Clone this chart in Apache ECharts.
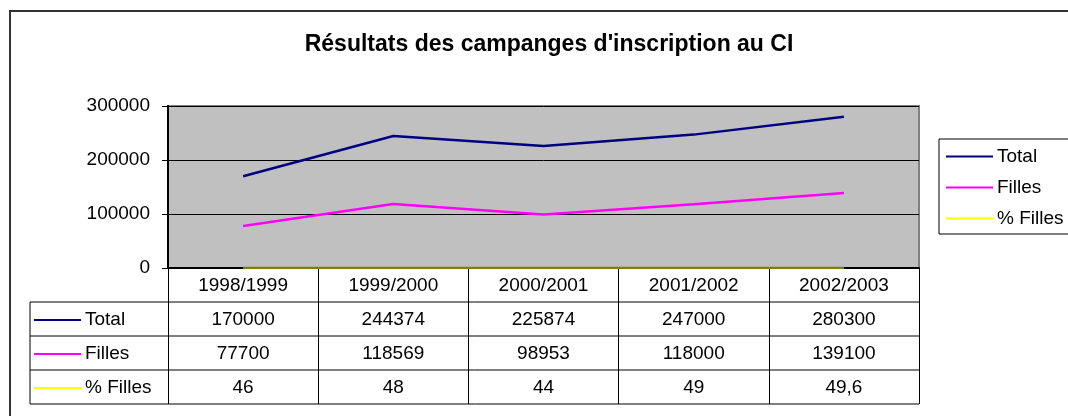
<!DOCTYPE html>
<html>
<head>
<meta charset="utf-8">
<script src="https://cdn.jsdelivr.net/npm/echarts@6/dist/echarts.min.js"></script>
<style>
  html, body { margin: 0; padding: 0; background: #fff; }
  #main { width: 1068px; height: 416px; }
</style>
</head>
<body>
<div id="main"></div>
<script>
/* Résultats des campagnes d'inscription au CI */
var titre = "Résultats des campanges d'inscription au CI";
var annees = ['1998/1999', '1999/2000', '2000/2001', '2001/2002', '2002/2003'];
var total = [170000, 244374, 225874, 247000, 280300];
var filles = [77700, 118569, 98953, 118000, 139100];
var pctFilles = [46, 48, 44, 49, 49.6];
var yTicks = [0, 100000, 200000, 300000];

var noms = ['Total', 'Filles', '% Filles'];
var couleurs = ['#000080', '#FF00FF', '#FFFF00'];
var lignes = [total, filles, pctFilles];

var FONT = '"Liberation Sans", Arial, sans-serif';
var gLeft = 168, gTop = 106, gW = 751, gH = 162;
var rowH = 34, tabLeft = 30;
var gBottom = gTop + gH;

var chart = echarts.init(document.getElementById('main'));

// nombre affiché à la française (virgule décimale)
function fmt(v) { return String(v).replace('.', ','); }

var xAxes = [{
    type: 'category',
    data: annees,
    position: 'bottom',
    gridIndex: 0,
    boundaryGap: true,
    axisLine: { show: true, lineStyle: { color: '#000', width: 2 } },
    axisTick: { show: true, length: rowH * 4, lineStyle: { color: '#000', width: 1 } },
    axisLabel: { color: '#000', fontSize: 19, fontFamily: FONT, margin: 8 }
}];
for (var k = 0; k < lignes.length; k++) {
    (function (serie, k) {
        xAxes.push({
            type: 'category',
            data: annees,
            position: 'bottom',
            gridIndex: 0,
            offset: rowH * (k + 1),
            axisLine: { show: false },
            axisTick: { show: false },
            axisLabel: {
                color: '#000', fontSize: 19, fontFamily: FONT, margin: 8,
                formatter: function (v, i) { return fmt(serie[i]); }
            }
        });
    })(lignes[k], k);
}

// cadre du tableau + légende de gauche
var graphics = [
    { type: 'rect', shape: { x: 10, y: 11, width: 1200, height: 500 }, style: { fill: 'none', stroke: '#333', lineWidth: 2 }, silent: true }
];
for (var r = 1; r <= 4; r++) {
    graphics.push({ type: 'line', shape: { x1: tabLeft, y1: gBottom + rowH * r, x2: gLeft + gW, y2: gBottom + rowH * r }, style: { stroke: '#000', lineWidth: 1 } });
}
graphics.push({ type: 'line', shape: { x1: tabLeft, y1: gBottom + rowH, x2: tabLeft, y2: gBottom + rowH * 4 }, style: { stroke: '#000', lineWidth: 1 } });
for (var s = 0; s < noms.length; s++) {
    var cy = gBottom + rowH * (s + 1) + rowH / 2 + 1;
    graphics.push({ type: 'line', shape: { x1: tabLeft + 4, y1: cy, x2: tabLeft + 51, y2: cy }, style: { stroke: couleurs[s], lineWidth: 2 } });
    graphics.push({ type: 'text', x: tabLeft + 55, y: cy, style: { text: noms[s], fill: '#000', font: '19px ' + FONT, verticalAlign: 'middle' } });
}

var option = {
    animation: false,
    backgroundColor: '#fff',
    title: {
        text: titre,
        left: 544, top: 28, textAlign: 'center',
        textStyle: { fontSize: 23, fontWeight: 'bold', fontFamily: FONT, color: '#000' }
    },
    legend: {
        orient: 'vertical',
        left: 939, top: 139,
        padding: [8, 60, 6, 7],
        itemGap: 12,
        itemWidth: 47, itemHeight: 2,
        icon: 'rect',
        borderColor: '#000', borderWidth: 1,
        backgroundColor: '#fff',
        textStyle: { fontSize: 19, fontFamily: FONT, color: '#000', padding: [0, 0, 0, -1] },
        data: noms.map(function (n, i) { return { name: n, itemStyle: { color: couleurs[i] } }; })
    },
    grid: {
        left: gLeft, top: gTop, width: gW, height: gH,
        show: true, backgroundColor: '#C0C0C0', borderColor: '#808080', borderWidth: 2
    },
    xAxis: xAxes,
    yAxis: {
        type: 'value',
        min: yTicks[0], max: yTicks[yTicks.length - 1], interval: yTicks[1] - yTicks[0],
        axisLine: { show: true, lineStyle: { color: '#000', width: 2 } },
        axisTick: { show: true, length: 6, lineStyle: { color: '#000' } },
        axisLabel: {
            color: '#000', fontSize: 19, fontFamily: FONT, margin: 18,
            formatter: function (v) { return String(v); }
        },
        splitLine: { show: true, lineStyle: { color: '#000', width: 1 } }
    },
    series: noms.map(function (n, i) {
        return {
            name: n,
            type: 'line',
            data: lignes[i],
            symbol: 'none',
            color: couleurs[i],
            lineStyle: { width: 2.5, color: i === 2 ? '#808000' : couleurs[i] },
            z: 3
        };
    }),
    graphic: graphics
};

chart.setOption(option);
</script>
</body>
</html>
